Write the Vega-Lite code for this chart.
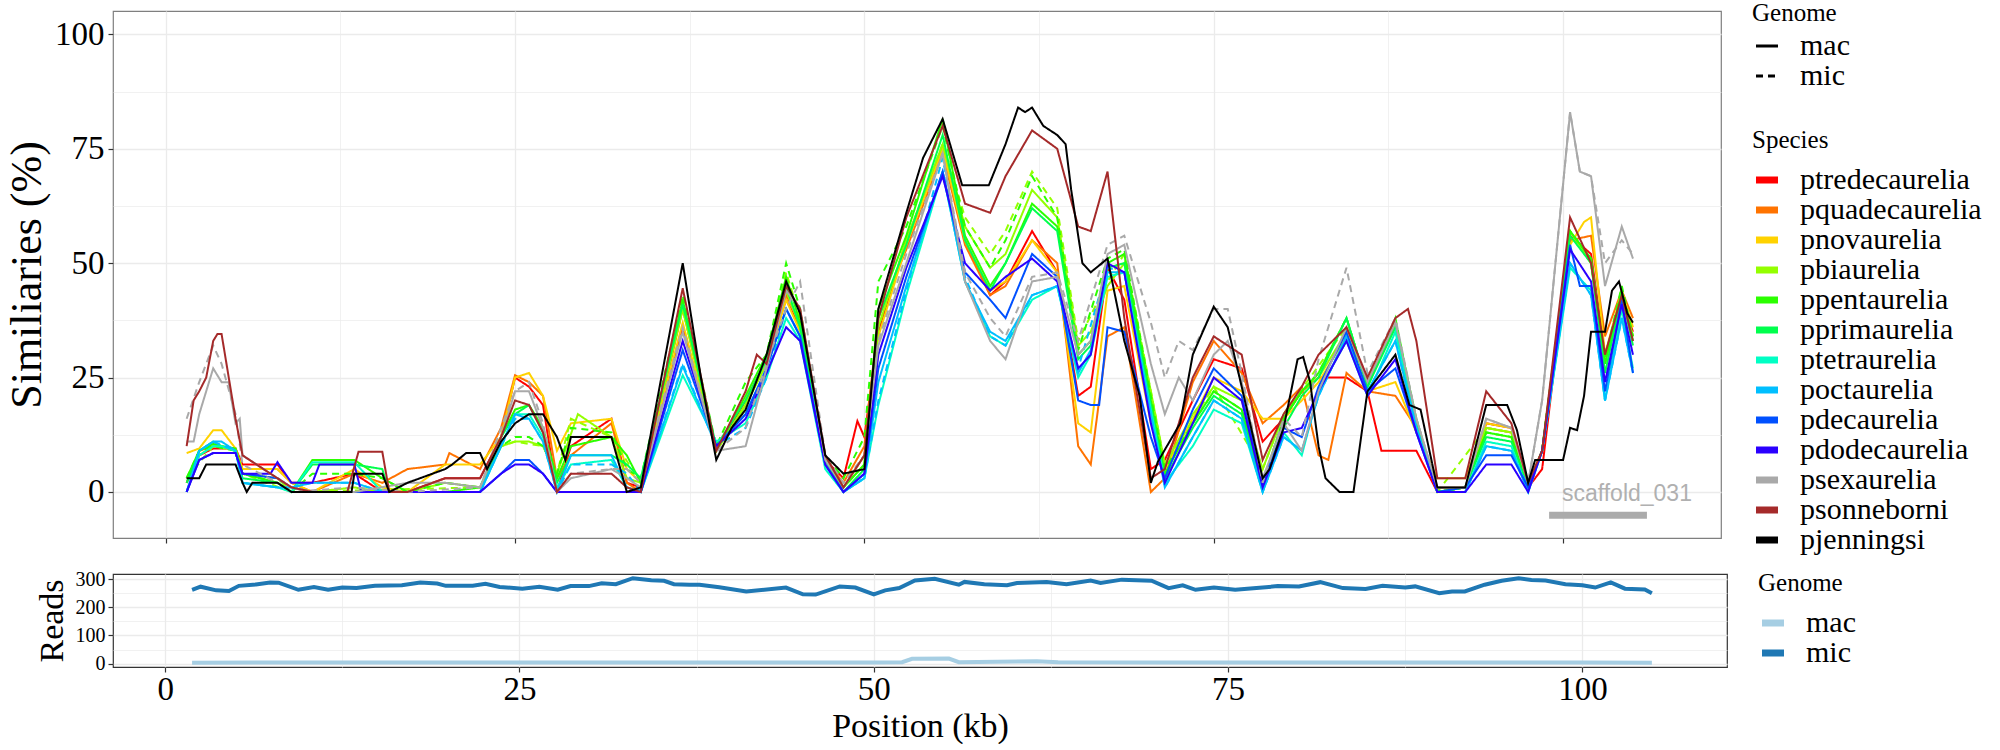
{
  "$schema": "https://vega.github.io/schema/vega-lite/v6.json",
  "padding": {"left": 4, "top": 0, "right": 0, "bottom": 0},
  "config": {
    "font": "Liberation Serif",
    "view": {"stroke": "#7f7f7f", "strokeWidth": 1.2},
    "axis": {"labelFont": "Liberation Serif", "titleFont": "Liberation Serif", "labelColor": "#000", "titleColor": "#000", "titleFontWeight": "normal", "tickColor": "#333", "tickSize": 5, "tickWidth": 1.2, "domain": false, "gridColor": "#EBEBEB", "labelOverlap": false, "labelFlush": false},
    "legend": {"labelFont": "Liberation Serif", "titleFont": "Liberation Serif", "titleFontWeight": "normal", "labelColor": "#000", "titleColor": "#000", "titleFontSize": 25, "labelFontSize": 30, "padding": 0, "rowPadding": 0, "labelOffset": 18, "symbolSize": 484, "symbolType": "stroke", "labelLimit": 300, "symbolStrokeColor": "#000"}
  },
  "datasets": {
    "ptredecaurelia_mac": [{"x":1.5,"y":2},{"x":2.4,"y":8},{"x":3.4,"y":9.5},{"x":4,"y":9.5},{"x":5,"y":9.5},{"x":5.5,"y":6},{"x":8,"y":6},{"x":9,"y":2},{"x":10.5,"y":2},{"x":13.5,"y":4},{"x":15.5,"y":0},{"x":17.3,"y":0},{"x":20,"y":3},{"x":22.5,"y":3},{"x":24,"y":12},{"x":25,"y":25},{"x":26,"y":23},{"x":27,"y":19},{"x":28,"y":0},{"x":29,"y":10},{"x":31.9,"y":16},{"x":33,"y":2},{"x":34,"y":1},{"x":37,"y":36},{"x":39.4,"y":9},{"x":41.5,"y":20},{"x":43,"y":29},{"x":44.4,"y":42},{"x":45.4,"y":36},{"x":47.2,"y":7},{"x":48.5,"y":3},{"x":49.5,"y":15.5},{"x":50,"y":12},{"x":51,"y":35},{"x":53,"y":55},{"x":55.6,"y":75},{"x":57.2,"y":55},{"x":59,"y":43},{"x":60.1,"y":46},{"x":62,"y":57},{"x":63.8,"y":48},{"x":65.3,"y":21},{"x":66.2,"y":23},{"x":67.4,"y":49},{"x":68.6,"y":42},{"x":70.5,"y":5},{"x":71.5,"y":7},{"x":73.5,"y":20},{"x":75,"y":29},{"x":77,"y":27},{"x":78.5,"y":11},{"x":80,"y":16},{"x":81.3,"y":22},{"x":82.5,"y":25},{"x":84.5,"y":25},{"x":86,"y":22},{"x":87,"y":9},{"x":88,"y":9},{"x":89.5,"y":9},{"x":91,"y":0},{"x":93,"y":1},{"x":94.5,"y":15},{"x":96.3,"y":14},{"x":97.5,"y":1},{"x":98.5,"y":5},{"x":100.5,"y":56},{"x":102,"y":52},{"x":103,"y":30},{"x":104.2,"y":42},{"x":105,"y":35}],
    "pquadecaurelia_mac": [{"x":1.5,"y":2},{"x":2.4,"y":9},{"x":3.4,"y":10},{"x":4,"y":10},{"x":5,"y":9},{"x":5.5,"y":5},{"x":8,"y":5},{"x":9,"y":2},{"x":10.5,"y":0},{"x":13.5,"y":4},{"x":15.5,"y":2},{"x":17.3,"y":5},{"x":20,"y":6},{"x":20.3,"y":8.5},{"x":22.5,"y":5},{"x":24,"y":14},{"x":25,"y":25.5},{"x":26,"y":24},{"x":27,"y":21},{"x":28,"y":3},{"x":29,"y":8},{"x":31.9,"y":15},{"x":33,"y":2},{"x":34,"y":0},{"x":37,"y":40},{"x":39.4,"y":9},{"x":41.5,"y":19},{"x":43,"y":29},{"x":44.4,"y":43},{"x":45.4,"y":37},{"x":47.2,"y":7},{"x":48.5,"y":2},{"x":50,"y":10},{"x":51,"y":38},{"x":53,"y":53},{"x":55.6,"y":74},{"x":57.2,"y":54},{"x":59,"y":43},{"x":60.1,"y":45},{"x":62,"y":55},{"x":63.8,"y":50},{"x":65.3,"y":10},{"x":66.2,"y":6},{"x":67.4,"y":34},{"x":68.6,"y":36},{"x":70.5,"y":0},{"x":71.5,"y":3},{"x":73.5,"y":24},{"x":75,"y":33},{"x":77,"y":26},{"x":78.5,"y":15},{"x":80,"y":19},{"x":81.3,"y":23},{"x":82.5,"y":8},{"x":83.2,"y":7},{"x":84.5,"y":26},{"x":86,"y":22},{"x":88,"y":21},{"x":89.5,"y":14},{"x":91,"y":1},{"x":93,"y":1},{"x":94.5,"y":14},{"x":96.3,"y":13},{"x":97.5,"y":1},{"x":98.5,"y":9},{"x":100.5,"y":55},{"x":102,"y":56},{"x":103,"y":34},{"x":104.2,"y":44},{"x":105,"y":38}],
    "pnovaurelia_mac": [{"x":1.5,"y":8.5},{"x":2.4,"y":9.5},{"x":3.4,"y":13.5},{"x":4,"y":13.5},{"x":5,"y":9.5},{"x":5.5,"y":5},{"x":8,"y":5},{"x":9,"y":2},{"x":10.5,"y":0},{"x":13.5,"y":5},{"x":15.5,"y":1},{"x":17.3,"y":0},{"x":20,"y":6},{"x":22.5,"y":6},{"x":24,"y":12},{"x":25,"y":25},{"x":26,"y":26},{"x":27,"y":21},{"x":28,"y":9},{"x":29,"y":15},{"x":31.9,"y":16},{"x":33,"y":5},{"x":34,"y":2},{"x":37,"y":37},{"x":39.4,"y":9},{"x":41.5,"y":19},{"x":43,"y":28},{"x":44.4,"y":42},{"x":45.4,"y":35},{"x":47.2,"y":7},{"x":48.5,"y":1},{"x":50,"y":8},{"x":51,"y":34},{"x":53,"y":54},{"x":55.6,"y":75},{"x":57.2,"y":55},{"x":59,"y":44},{"x":60.1,"y":46},{"x":62,"y":55},{"x":63.8,"y":48},{"x":65.3,"y":15},{"x":66.2,"y":13},{"x":67.4,"y":44},{"x":68.6,"y":45},{"x":70.5,"y":15},{"x":71.5,"y":5},{"x":73.5,"y":16},{"x":75,"y":25},{"x":77,"y":22},{"x":78.5,"y":16},{"x":80,"y":16},{"x":81.3,"y":20},{"x":82.5,"y":24},{"x":84.5,"y":34},{"x":86,"y":22},{"x":88,"y":24},{"x":89.5,"y":13},{"x":91,"y":3},{"x":93,"y":3},{"x":94.5,"y":15},{"x":96.3,"y":14},{"x":97.5,"y":2},{"x":98.5,"y":9},{"x":100.5,"y":54},{"x":101.5,"y":59},{"x":102,"y":60},{"x":103,"y":30},{"x":104.2,"y":44},{"x":105,"y":36}],
    "pbiaurelia_mac": [{"x":1.5,"y":3},{"x":2.4,"y":8},{"x":3.4,"y":10},{"x":4,"y":10},{"x":5,"y":9},{"x":5.5,"y":4},{"x":8,"y":3},{"x":9,"y":0},{"x":10.5,"y":0},{"x":13.5,"y":1},{"x":15.5,"y":0},{"x":17.3,"y":0},{"x":20,"y":2},{"x":22.5,"y":1},{"x":24,"y":10},{"x":25,"y":11},{"x":26,"y":11},{"x":27,"y":10},{"x":28,"y":4},{"x":29.5,"y":17},{"x":31.9,"y":12},{"x":33,"y":3},{"x":34,"y":2},{"x":37,"y":40},{"x":39.4,"y":9},{"x":41.5,"y":19},{"x":43,"y":28},{"x":44.4,"y":44},{"x":45.4,"y":36},{"x":47.2,"y":7},{"x":48.5,"y":1},{"x":50,"y":6},{"x":51,"y":36},{"x":53,"y":55},{"x":55.6,"y":76},{"x":57.2,"y":58},{"x":59,"y":49},{"x":60.1,"y":52},{"x":62,"y":66},{"x":63.8,"y":60},{"x":65.3,"y":32},{"x":66.2,"y":35},{"x":67.4,"y":45},{"x":68.6,"y":50},{"x":70.5,"y":22},{"x":71.5,"y":6},{"x":73.5,"y":17},{"x":75,"y":23},{"x":77,"y":20},{"x":78.5,"y":5},{"x":80,"y":17},{"x":81.3,"y":22},{"x":82.5,"y":25},{"x":84.5,"y":35},{"x":86,"y":24},{"x":88,"y":36},{"x":89.5,"y":15},{"x":91,"y":0},{"x":93,"y":1},{"x":94.5,"y":14},{"x":96.3,"y":13},{"x":97.5,"y":1},{"x":98.5,"y":9},{"x":100.5,"y":57},{"x":102,"y":50},{"x":103,"y":28},{"x":104.2,"y":43},{"x":105,"y":34}],
    "pbiaurelia_mic": [{"x":1.5,"y":3},{"x":3.4,"y":10},{"x":5,"y":9},{"x":5.5,"y":4},{"x":9,"y":0},{"x":22.5,"y":1},{"x":24,"y":10},{"x":25,"y":11},{"x":27,"y":10},{"x":28,"y":4},{"x":29,"y":16},{"x":31.9,"y":12},{"x":34,"y":2},{"x":37,"y":40},{"x":39.4,"y":9},{"x":41.5,"y":19},{"x":43,"y":29},{"x":44.4,"y":48},{"x":45.4,"y":38},{"x":47.2,"y":7},{"x":48.5,"y":1},{"x":50,"y":6},{"x":51,"y":36},{"x":53,"y":55},{"x":55.6,"y":76},{"x":57.2,"y":60},{"x":59,"y":52},{"x":60.1,"y":57},{"x":62,"y":70},{"x":63.8,"y":62},{"x":65.3,"y":33},{"x":67.4,"y":46},{"x":68.6,"y":52},{"x":70.5,"y":22},{"x":71.5,"y":6},{"x":75,"y":23},{"x":78.5,"y":5},{"x":80,"y":17},{"x":84.5,"y":36},{"x":86,"y":24},{"x":88,"y":36},{"x":89.5,"y":15},{"x":91,"y":0},{"x":94.5,"y":14},{"x":96.3,"y":13},{"x":97.5,"y":1},{"x":98.5,"y":9},{"x":100.5,"y":57},{"x":102,"y":50},{"x":103,"y":28},{"x":104.2,"y":43},{"x":105,"y":34}],
    "ppentaurelia_mac": [{"x":1.5,"y":3},{"x":2.4,"y":9},{"x":3.4,"y":10.5},{"x":4,"y":10},{"x":5,"y":9.5},{"x":5.5,"y":4},{"x":8,"y":2},{"x":9,"y":0},{"x":10.5,"y":7},{"x":13.5,"y":7},{"x":15.5,"y":3},{"x":17.3,"y":0},{"x":20,"y":0},{"x":22.5,"y":1},{"x":24,"y":12},{"x":25,"y":18},{"x":26,"y":19},{"x":27,"y":14},{"x":28,"y":3},{"x":29,"y":10},{"x":31.9,"y":12},{"x":33,"y":8},{"x":34,"y":2},{"x":37,"y":42},{"x":39.4,"y":9},{"x":41.5,"y":21},{"x":43,"y":30},{"x":44.4,"y":47},{"x":45.4,"y":37},{"x":47.2,"y":7},{"x":48.5,"y":1},{"x":50,"y":6},{"x":51,"y":40},{"x":53,"y":56},{"x":55.6,"y":81.5},{"x":57.2,"y":56},{"x":59,"y":45},{"x":60.1,"y":50},{"x":62,"y":63},{"x":63.8,"y":58},{"x":65.3,"y":30},{"x":66.2,"y":33},{"x":67.4,"y":50},{"x":68.6,"y":52},{"x":70.5,"y":20},{"x":71.5,"y":4},{"x":73.5,"y":15},{"x":75,"y":22},{"x":77,"y":18},{"x":78.5,"y":2},{"x":80,"y":16},{"x":81.3,"y":22},{"x":82.5,"y":26},{"x":84.5,"y":38},{"x":86,"y":23},{"x":88,"y":37},{"x":89.5,"y":16},{"x":91,"y":0},{"x":93,"y":1},{"x":94.5,"y":13},{"x":96.3,"y":12},{"x":97.5,"y":1},{"x":98.5,"y":9},{"x":100.5,"y":57},{"x":102,"y":51},{"x":103,"y":28},{"x":104.2,"y":44},{"x":105,"y":33}],
    "ppentaurelia_mic": [{"x":1.5,"y":3},{"x":2.4,"y":9},{"x":3.4,"y":10},{"x":5,"y":9},{"x":5.5,"y":4},{"x":8,"y":2},{"x":9,"y":0},{"x":10.5,"y":4},{"x":13.5,"y":4},{"x":15.5,"y":3},{"x":17.3,"y":0},{"x":20,"y":2},{"x":22.5,"y":1},{"x":24,"y":10},{"x":25,"y":12},{"x":26,"y":12},{"x":27,"y":10},{"x":28,"y":4},{"x":29,"y":14},{"x":31.9,"y":13},{"x":33,"y":5},{"x":34,"y":3},{"x":37,"y":43},{"x":39.4,"y":10},{"x":41.5,"y":24},{"x":43,"y":30},{"x":44.4,"y":50},{"x":45.4,"y":40},{"x":47.2,"y":8},{"x":48.5,"y":3},{"x":50,"y":12},{"x":51,"y":46},{"x":53,"y":58},{"x":55.6,"y":80},{"x":57.2,"y":58},{"x":59,"y":49},{"x":60.1,"y":55},{"x":62,"y":69},{"x":63.8,"y":60},{"x":65.3,"y":31},{"x":67.4,"y":51},{"x":68.6,"y":53},{"x":70.5,"y":21},{"x":71.5,"y":5},{"x":73.5,"y":15},{"x":75,"y":22},{"x":77,"y":18},{"x":78.5,"y":2},{"x":80,"y":16},{"x":81.3,"y":22},{"x":82.5,"y":26},{"x":84.5,"y":38},{"x":86,"y":23},{"x":88,"y":38},{"x":89.5,"y":15},{"x":91,"y":0},{"x":93,"y":1},{"x":94.5,"y":13},{"x":96.3,"y":12},{"x":97.5,"y":1},{"x":98.5,"y":9},{"x":100.5,"y":57},{"x":102,"y":51},{"x":103,"y":29},{"x":104.2,"y":45},{"x":105,"y":34}],
    "pprimaurelia_mac": [{"x":1.5,"y":2},{"x":2.4,"y":9},{"x":3.4,"y":11},{"x":4,"y":10},{"x":5,"y":9},{"x":5.5,"y":3},{"x":8,"y":2},{"x":9,"y":0},{"x":10.5,"y":6},{"x":13.5,"y":6},{"x":15.5,"y":5},{"x":16,"y":0},{"x":17.3,"y":0},{"x":20,"y":0},{"x":22.5,"y":0},{"x":24,"y":12},{"x":25,"y":17},{"x":26,"y":19},{"x":27,"y":13},{"x":28,"y":2},{"x":29,"y":8},{"x":31.9,"y":8},{"x":33,"y":6},{"x":34,"y":3},{"x":37,"y":41},{"x":39.4,"y":10},{"x":41.5,"y":20},{"x":43,"y":29},{"x":44.4,"y":45},{"x":45.4,"y":36},{"x":47.2,"y":7},{"x":48.5,"y":0},{"x":50,"y":5},{"x":51,"y":38},{"x":53,"y":54},{"x":55.6,"y":78},{"x":57.2,"y":55},{"x":59,"y":44},{"x":60.1,"y":50},{"x":62,"y":62},{"x":63.8,"y":57},{"x":65.3,"y":29},{"x":66.2,"y":32},{"x":67.4,"y":49},{"x":68.6,"y":50},{"x":70.5,"y":19},{"x":71.5,"y":3},{"x":73.5,"y":14},{"x":75,"y":21},{"x":77,"y":17},{"x":78.5,"y":1},{"x":80,"y":14},{"x":81.3,"y":21},{"x":82.5,"y":25},{"x":84.5,"y":38},{"x":86,"y":23},{"x":88,"y":36},{"x":89.5,"y":15},{"x":91,"y":0},{"x":93,"y":1},{"x":94.5,"y":12},{"x":96.3,"y":11},{"x":97.5,"y":1},{"x":98.5,"y":9},{"x":100.5,"y":56},{"x":102,"y":50},{"x":103,"y":26},{"x":104.2,"y":43},{"x":105,"y":32}],
    "ptetraurelia_mac": [{"x":1.5,"y":0},{"x":2.4,"y":8},{"x":3.4,"y":10},{"x":4,"y":10},{"x":5,"y":9},{"x":5.5,"y":2},{"x":8,"y":1},{"x":9,"y":0},{"x":10.5,"y":6.5},{"x":13.5,"y":6.5},{"x":15.5,"y":0},{"x":17.3,"y":0},{"x":20,"y":0},{"x":22.5,"y":0},{"x":24,"y":10},{"x":25,"y":17},{"x":26,"y":17},{"x":27,"y":12},{"x":28,"y":1},{"x":29,"y":6},{"x":31.9,"y":7},{"x":33,"y":1},{"x":34,"y":0},{"x":37,"y":25.5},{"x":39.4,"y":11},{"x":41.5,"y":15},{"x":43,"y":25},{"x":44.4,"y":38},{"x":45.4,"y":33},{"x":47.2,"y":5},{"x":48.5,"y":0},{"x":50,"y":3},{"x":51,"y":19},{"x":53,"y":43},{"x":55.6,"y":70},{"x":57.2,"y":46},{"x":59,"y":34},{"x":60.1,"y":32},{"x":62,"y":42},{"x":63.8,"y":45},{"x":65.3,"y":25},{"x":66.2,"y":30},{"x":67.4,"y":47},{"x":68.6,"y":48},{"x":70.5,"y":18},{"x":71.5,"y":2},{"x":73.5,"y":10},{"x":75,"y":18},{"x":77,"y":15},{"x":78.5,"y":0},{"x":80,"y":13},{"x":81.3,"y":8},{"x":82.5,"y":22},{"x":84.5,"y":33},{"x":86,"y":21},{"x":88,"y":35},{"x":89.5,"y":14},{"x":91,"y":0},{"x":93,"y":0},{"x":94.5,"y":11},{"x":96.3,"y":10},{"x":97.5,"y":0},{"x":98.5,"y":9},{"x":100.5,"y":49},{"x":102,"y":44},{"x":103,"y":20},{"x":104.2,"y":40},{"x":105,"y":27}],
    "poctaurelia_mac": [{"x":1.5,"y":0},{"x":2.4,"y":9},{"x":3.4,"y":11},{"x":4,"y":11},{"x":5,"y":9},{"x":5.5,"y":2},{"x":8,"y":1},{"x":9,"y":1},{"x":10.5,"y":2},{"x":13.5,"y":2},{"x":15.5,"y":0},{"x":17.3,"y":0},{"x":20,"y":0},{"x":22.5,"y":0},{"x":24,"y":10},{"x":25,"y":17},{"x":26,"y":16},{"x":27,"y":11},{"x":28,"y":0},{"x":29,"y":8},{"x":31.9,"y":8},{"x":33,"y":1},{"x":34,"y":0},{"x":37,"y":27.5},{"x":39.4,"y":10},{"x":41.5,"y":17},{"x":43,"y":27},{"x":44.4,"y":40},{"x":45.4,"y":34},{"x":47.2,"y":6},{"x":48.5,"y":0},{"x":50,"y":3},{"x":51,"y":24},{"x":53,"y":45},{"x":55.6,"y":70},{"x":57.2,"y":46},{"x":59,"y":35},{"x":60.1,"y":33},{"x":62,"y":43},{"x":63.8,"y":45},{"x":65.3,"y":26},{"x":66.2,"y":31},{"x":67.4,"y":48},{"x":68.6,"y":48},{"x":70.5,"y":17},{"x":71.5,"y":1},{"x":73.5,"y":12},{"x":75,"y":20},{"x":77,"y":16},{"x":78.5,"y":0},{"x":80,"y":12},{"x":81.3,"y":9},{"x":82.5,"y":21},{"x":84.5,"y":34},{"x":86,"y":22},{"x":88,"y":33},{"x":89.5,"y":14},{"x":91,"y":0},{"x":93,"y":0},{"x":94.5,"y":10},{"x":96.3,"y":9},{"x":97.5,"y":0},{"x":98.5,"y":9},{"x":100.5,"y":50},{"x":102,"y":43},{"x":103,"y":20},{"x":104.2,"y":38},{"x":105,"y":26}],
    "poctaurelia_mic": [{"x":1.5,"y":0},{"x":2.4,"y":9},{"x":3.4,"y":11},{"x":5,"y":9},{"x":5.5,"y":2},{"x":8,"y":1},{"x":9,"y":1},{"x":10.5,"y":2},{"x":13.5,"y":2},{"x":15.5,"y":0},{"x":22.5,"y":0},{"x":24,"y":10},{"x":25,"y":16},{"x":26,"y":16},{"x":27,"y":11},{"x":28,"y":0},{"x":29,"y":6},{"x":31.9,"y":6},{"x":33,"y":4},{"x":34,"y":0},{"x":37,"y":28},{"x":39.4,"y":10},{"x":41.5,"y":14},{"x":43,"y":25},{"x":44.4,"y":40},{"x":45.4,"y":34},{"x":47.2,"y":6},{"x":48.5,"y":0},{"x":50,"y":3},{"x":51,"y":20},{"x":53,"y":44},{"x":55.6,"y":73},{"x":57.2,"y":47},{"x":59,"y":34},{"x":60.1,"y":32},{"x":62,"y":43},{"x":63.8,"y":45},{"x":65.3,"y":27},{"x":67.4,"y":49},{"x":68.6,"y":48},{"x":70.5,"y":17},{"x":71.5,"y":1},{"x":73.5,"y":12},{"x":75,"y":20},{"x":77,"y":16},{"x":78.5,"y":0},{"x":80,"y":12},{"x":81.3,"y":9},{"x":82.5,"y":21},{"x":84.5,"y":34},{"x":86,"y":22},{"x":88,"y":33},{"x":89.5,"y":14},{"x":91,"y":0},{"x":93,"y":0},{"x":94.5,"y":10},{"x":96.3,"y":9},{"x":97.5,"y":1},{"x":98.5,"y":9},{"x":100.5,"y":50},{"x":102,"y":43},{"x":103,"y":20},{"x":104.2,"y":38},{"x":105,"y":26}],
    "pdecaurelia_mac": [{"x":1.5,"y":0},{"x":2.4,"y":7},{"x":3.4,"y":8.5},{"x":4,"y":8.5},{"x":5,"y":8.5},{"x":5.5,"y":4},{"x":8,"y":3},{"x":9,"y":1},{"x":10.5,"y":0},{"x":13.5,"y":0},{"x":17.3,"y":0},{"x":22.5,"y":0},{"x":24,"y":4},{"x":25,"y":7},{"x":26,"y":7},{"x":27,"y":4},{"x":28,"y":0},{"x":34,"y":0},{"x":37,"y":31},{"x":39.4,"y":10},{"x":41.5,"y":17},{"x":43,"y":27},{"x":44.4,"y":40},{"x":45.4,"y":34},{"x":47.2,"y":6},{"x":48.5,"y":0},{"x":50,"y":4},{"x":51,"y":27},{"x":53,"y":47},{"x":55.6,"y":70},{"x":57.2,"y":48},{"x":59,"y":42},{"x":60.1,"y":38},{"x":62,"y":52},{"x":63.8,"y":47},{"x":65.3,"y":20},{"x":66.2,"y":19},{"x":66.8,"y":19},{"x":67.4,"y":36},{"x":68.6,"y":35},{"x":70.5,"y":12},{"x":71.5,"y":3},{"x":73.5,"y":18},{"x":75,"y":27},{"x":77,"y":21},{"x":78.5,"y":2},{"x":80,"y":14},{"x":81.3,"y":12},{"x":82.5,"y":23},{"x":84.5,"y":35},{"x":86,"y":22},{"x":88,"y":27},{"x":89.5,"y":13},{"x":91,"y":0},{"x":93,"y":1},{"x":94.5,"y":8},{"x":96.3,"y":8},{"x":97.5,"y":1},{"x":98.5,"y":9},{"x":100.5,"y":54},{"x":101.2,"y":45},{"x":102,"y":45},{"x":103,"y":22},{"x":104.2,"y":42},{"x":105,"y":26}],
    "pdodecaurelia_mac": [{"x":1.5,"y":0},{"x":2.4,"y":7},{"x":3.4,"y":8.5},{"x":4,"y":8.5},{"x":5,"y":8.5},{"x":5.5,"y":4},{"x":7.5,"y":4},{"x":8,"y":6.5},{"x":9,"y":2},{"x":10.5,"y":2},{"x":11,"y":6},{"x":13.5,"y":6},{"x":14,"y":0},{"x":17.3,"y":0},{"x":22.5,"y":0},{"x":24,"y":4},{"x":25,"y":6},{"x":26,"y":6},{"x":27,"y":4},{"x":28,"y":0},{"x":34,"y":0},{"x":37,"y":33},{"x":39.4,"y":10},{"x":41.5,"y":16},{"x":43,"y":26},{"x":44.4,"y":36},{"x":45.4,"y":33},{"x":47.2,"y":6},{"x":48.5,"y":0},{"x":50,"y":4},{"x":51,"y":30},{"x":53,"y":49},{"x":55.6,"y":69},{"x":57.2,"y":50},{"x":59,"y":44},{"x":60.1,"y":47},{"x":62,"y":51},{"x":63.8,"y":46},{"x":65.3,"y":27},{"x":66.2,"y":30},{"x":67.4,"y":50},{"x":68.6,"y":48},{"x":70.5,"y":15},{"x":71.5,"y":2},{"x":73.5,"y":15},{"x":75,"y":25},{"x":77,"y":20},{"x":78.5,"y":1},{"x":80,"y":13},{"x":81.3,"y":14},{"x":82.5,"y":22},{"x":84.5,"y":33},{"x":86,"y":21},{"x":88,"y":29},{"x":89.5,"y":13},{"x":91,"y":0},{"x":93,"y":0},{"x":94.5,"y":6},{"x":96.3,"y":6},{"x":97.5,"y":0},{"x":98.5,"y":9},{"x":100.5,"y":53},{"x":102,"y":46},{"x":103,"y":24},{"x":104.2,"y":41},{"x":105,"y":30}],
    "psexaurelia_mac": [{"x":1.5,"y":11},{"x":2,"y":11},{"x":2.4,"y":17},{"x":3.4,"y":27},{"x":4,"y":24},{"x":4.5,"y":24},{"x":5,"y":15},{"x":5.3,"y":16},{"x":5.5,"y":8},{"x":8,"y":3},{"x":9,"y":1},{"x":10.5,"y":0},{"x":13.5,"y":0},{"x":17.3,"y":2},{"x":20,"y":2},{"x":22.5,"y":1},{"x":24,"y":12},{"x":25,"y":22},{"x":26,"y":22},{"x":27,"y":14},{"x":28,"y":0},{"x":29,"y":3},{"x":31.9,"y":5},{"x":33,"y":3},{"x":34,"y":1},{"x":37,"y":35},{"x":39.4,"y":9},{"x":41.5,"y":10},{"x":43,"y":27},{"x":44.4,"y":44},{"x":45.4,"y":40},{"x":47.2,"y":7},{"x":48.5,"y":1},{"x":50,"y":8},{"x":51,"y":32},{"x":53,"y":50},{"x":55.6,"y":74},{"x":57.2,"y":46},{"x":59,"y":33},{"x":60.1,"y":29},{"x":62,"y":46},{"x":63.8,"y":47},{"x":65.3,"y":30},{"x":66.2,"y":33},{"x":67.4,"y":52},{"x":68.6,"y":54},{"x":70.5,"y":28},{"x":71.5,"y":17},{"x":72.5,"y":25},{"x":73.5,"y":20},{"x":75,"y":30},{"x":76,"y":33},{"x":77,"y":24},{"x":78.5,"y":3},{"x":80,"y":15},{"x":81.3,"y":9},{"x":82.5,"y":22},{"x":84.5,"y":36},{"x":86,"y":24},{"x":88,"y":37},{"x":89.5,"y":16},{"x":91,"y":1},{"x":93,"y":1},{"x":94.5,"y":16},{"x":96.3,"y":14},{"x":97.5,"y":2},{"x":98.5,"y":20},{"x":100.5,"y":83},{"x":101.2,"y":70},{"x":102,"y":69},{"x":103,"y":45},{"x":104.2,"y":58},{"x":105,"y":51}],
    "psexaurelia_mic": [{"x":1.5,"y":16},{"x":2.4,"y":24},{"x":3.4,"y":32},{"x":4,"y":28},{"x":5,"y":17},{"x":5.5,"y":6},{"x":8,"y":2},{"x":9,"y":0},{"x":13.5,"y":1},{"x":17.3,"y":0},{"x":22.5,"y":1},{"x":24,"y":14},{"x":25,"y":22},{"x":26,"y":24},{"x":27,"y":15},{"x":28,"y":0},{"x":29,"y":4},{"x":31.9,"y":5},{"x":33,"y":5},{"x":34,"y":2},{"x":37,"y":36},{"x":39.4,"y":9},{"x":41.5,"y":14},{"x":43,"y":28},{"x":44.4,"y":40},{"x":45.4,"y":46},{"x":47.2,"y":8},{"x":48.5,"y":2},{"x":50,"y":8},{"x":51,"y":33},{"x":53,"y":52},{"x":55.6,"y":74},{"x":57.2,"y":48},{"x":59,"y":38},{"x":60.1,"y":34},{"x":62,"y":47},{"x":63.8,"y":48},{"x":65.3,"y":33},{"x":67.4,"y":54},{"x":68.6,"y":56},{"x":70.5,"y":37},{"x":71.5,"y":25},{"x":72.5,"y":33},{"x":73.5,"y":31},{"x":75,"y":40},{"x":76,"y":40},{"x":77,"y":26},{"x":78.5,"y":2},{"x":80,"y":16},{"x":81.3,"y":12},{"x":82.5,"y":29},{"x":84.5,"y":49},{"x":86,"y":26},{"x":88,"y":38},{"x":89.5,"y":16},{"x":91,"y":1},{"x":93,"y":1},{"x":94.5,"y":16},{"x":96.3,"y":14},{"x":97.5,"y":2},{"x":98.5,"y":20},{"x":100.5,"y":83},{"x":101.2,"y":70},{"x":102,"y":69},{"x":103,"y":50},{"x":104.2,"y":55},{"x":105,"y":52}],
    "psonneborni_mac": [{"x":1.5,"y":10},{"x":2,"y":20},{"x":2.4,"y":22},{"x":2.9,"y":25},{"x":3.4,"y":33},{"x":3.7,"y":34.5},{"x":4,"y":34.5},{"x":5,"y":16},{"x":5.5,"y":8},{"x":8,"y":3},{"x":9,"y":1},{"x":10.5,"y":0},{"x":13,"y":0},{"x":13.8,"y":8.8},{"x":15.5,"y":8.8},{"x":16,"y":0},{"x":17.3,"y":0},{"x":20,"y":3},{"x":22.5,"y":3},{"x":24,"y":12},{"x":25,"y":20},{"x":26,"y":19},{"x":27,"y":13},{"x":28,"y":0},{"x":29,"y":4},{"x":31.9,"y":4},{"x":33,"y":1},{"x":34,"y":0},{"x":37,"y":44.5},{"x":39.4,"y":9},{"x":41.5,"y":22},{"x":42.3,"y":30},{"x":43,"y":28},{"x":44.4,"y":45},{"x":45.4,"y":40},{"x":47.2,"y":8},{"x":48.5,"y":1},{"x":50,"y":8},{"x":51,"y":38},{"x":53,"y":60},{"x":55.6,"y":80},{"x":57.2,"y":63},{"x":59,"y":61},{"x":60.1,"y":69},{"x":62,"y":79},{"x":63.8,"y":75},{"x":65.3,"y":58},{"x":66.2,"y":57},{"x":67.4,"y":70},{"x":68.6,"y":38},{"x":70.5,"y":3},{"x":71.5,"y":5},{"x":73.5,"y":25},{"x":75,"y":34},{"x":77,"y":30},{"x":78.5,"y":7},{"x":80,"y":17},{"x":81.3,"y":23},{"x":82.5,"y":30},{"x":84.5,"y":36},{"x":86,"y":25},{"x":88,"y":38},{"x":88.9,"y":40},{"x":89.5,"y":33},{"x":91,"y":3},{"x":93,"y":3},{"x":94.5,"y":22},{"x":96.3,"y":15},{"x":97.5,"y":2},{"x":98.5,"y":9},{"x":100.5,"y":60},{"x":102,"y":50},{"x":103,"y":30},{"x":104.2,"y":43},{"x":105,"y":33}],
    "pjenningsi_mac": [{"x":1.5,"y":3},{"x":2.4,"y":3},{"x":2.9,"y":6},{"x":4,"y":6},{"x":5,"y":6},{"x":5.5,"y":2},{"x":5.8,"y":0},{"x":6.2,"y":2},{"x":8,"y":2},{"x":9,"y":0},{"x":10.5,"y":0},{"x":13.3,"y":0},{"x":13.5,"y":4},{"x":15.5,"y":4},{"x":16,"y":0},{"x":17.3,"y":2},{"x":20,"y":5},{"x":20.5,"y":6},{"x":21.5,"y":8.5},{"x":22.5,"y":8.5},{"x":23,"y":5},{"x":24,"y":11},{"x":25,"y":15},{"x":26,"y":17},{"x":27,"y":17},{"x":28,"y":12},{"x":28.6,"y":7},{"x":29,"y":12},{"x":31.9,"y":12},{"x":33,"y":0},{"x":34,"y":1},{"x":37,"y":50},{"x":38.3,"y":25},{"x":39.4,"y":7},{"x":40.5,"y":14},{"x":41.5,"y":18},{"x":43,"y":30},{"x":44.4,"y":46},{"x":45.4,"y":39},{"x":47.2,"y":8},{"x":48.5,"y":4},{"x":50,"y":5},{"x":51,"y":40},{"x":53,"y":61},{"x":54.2,"y":73},{"x":55.6,"y":81.5},{"x":57,"y":67},{"x":58.9,"y":67},{"x":60.1,"y":76},{"x":61,"y":84},{"x":61.5,"y":83},{"x":62,"y":84},{"x":62.8,"y":80},{"x":63.8,"y":78},{"x":64.4,"y":76},{"x":64.8,"y":66},{"x":65.6,"y":50},{"x":66.2,"y":48},{"x":67.4,"y":51},{"x":68.6,"y":33},{"x":69.7,"y":21},{"x":70.5,"y":2},{"x":71,"y":6.6},{"x":72.6,"y":15},{"x":73.5,"y":30},{"x":75,"y":40.5},{"x":76,"y":36},{"x":77,"y":23},{"x":78.5,"y":3},{"x":79,"y":5},{"x":80,"y":14},{"x":81,"y":29},{"x":81.4,"y":29.5},{"x":81.9,"y":24},{"x":82.5,"y":10},{"x":83,"y":3},{"x":84,"y":0},{"x":85,"y":0},{"x":86,"y":22},{"x":88,"y":30},{"x":89,"y":19},{"x":89.8,"y":18},{"x":91,"y":1},{"x":93,"y":1},{"x":94.5,"y":19},{"x":96,"y":19},{"x":96.7,"y":13.5},{"x":97.5,"y":2},{"x":98,"y":7},{"x":100,"y":7},{"x":100.5,"y":14},{"x":101,"y":13.5},{"x":101.5,"y":21},{"x":102,"y":35},{"x":103,"y":35},{"x":103.5,"y":44},{"x":104,"y":46},{"x":104.6,"y":39},{"x":105,"y":37}],
    "scaffold": [{"x":99,"x2":106,"y":-5.1,"label":"scaffold_031"}],
    "reads": [
      {"x":1.9,"y":262,"g":"mic"},{"x":2.5,"y":273,"g":"mic"},{"x":3.6,"y":260,"g":"mic"},{"x":4.5,"y":258,"g":"mic"},{"x":5.2,"y":276,"g":"mic"},{"x":6.4,"y":281,"g":"mic"},{"x":7.4,"y":288,"g":"mic"},{"x":8,"y":287,"g":"mic"},{"x":9.4,"y":262,"g":"mic"},{"x":10.5,"y":272,"g":"mic"},{"x":11.5,"y":262,"g":"mic"},{"x":12.5,"y":270,"g":"mic"},{"x":13.5,"y":268,"g":"mic"},{"x":14.8,"y":276,"g":"mic"},{"x":16.7,"y":278,"g":"mic"},{"x":18,"y":288,"g":"mic"},{"x":19.2,"y":284,"g":"mic"},{"x":19.8,"y":276,"g":"mic"},{"x":21.7,"y":276,"g":"mic"},{"x":22.6,"y":283,"g":"mic"},{"x":23.6,"y":272,"g":"mic"},{"x":25.2,"y":266,"g":"mic"},{"x":26.4,"y":273,"g":"mic"},{"x":27.7,"y":262,"g":"mic"},{"x":28.6,"y":275,"g":"mic"},{"x":29.9,"y":275,"g":"mic"},{"x":30.8,"y":285,"g":"mic"},{"x":31.8,"y":282,"g":"mic"},{"x":33,"y":303,"g":"mic"},{"x":34.3,"y":296,"g":"mic"},{"x":35.2,"y":294,"g":"mic"},{"x":35.9,"y":282,"g":"mic"},{"x":37,"y":280,"g":"mic"},{"x":37.7,"y":280,"g":"mic"},{"x":39.1,"y":271,"g":"mic"},{"x":41,"y":256,"g":"mic"},{"x":43.8,"y":270,"g":"mic"},{"x":45,"y":246,"g":"mic"},{"x":45.9,"y":245,"g":"mic"},{"x":47.6,"y":274,"g":"mic"},{"x":48.7,"y":270,"g":"mic"},{"x":50,"y":246,"g":"mic"},{"x":50.8,"y":260,"g":"mic"},{"x":51.8,"y":268,"g":"mic"},{"x":52.9,"y":295,"g":"mic"},{"x":54.3,"y":301,"g":"mic"},{"x":56,"y":280,"g":"mic"},{"x":56.4,"y":290,"g":"mic"},{"x":57.8,"y":282,"g":"mic"},{"x":59.4,"y":278,"g":"mic"},{"x":60.1,"y":286,"g":"mic"},{"x":62.2,"y":290,"g":"mic"},{"x":63.6,"y":282,"g":"mic"},{"x":65.3,"y":295,"g":"mic"},{"x":66,"y":286,"g":"mic"},{"x":67.5,"y":298,"g":"mic"},{"x":69.6,"y":294,"g":"mic"},{"x":70.8,"y":268,"g":"mic"},{"x":71.8,"y":278,"g":"mic"},{"x":72.7,"y":262,"g":"mic"},{"x":74,"y":270,"g":"mic"},{"x":75.5,"y":262,"g":"mic"},{"x":77,"y":268,"g":"mic"},{"x":78.5,"y":275,"g":"mic"},{"x":80,"y":274,"g":"mic"},{"x":81.5,"y":289,"g":"mic"},{"x":83.1,"y":268,"g":"mic"},{"x":84.7,"y":265,"g":"mic"},{"x":85.9,"y":276,"g":"mic"},{"x":87.5,"y":270,"g":"mic"},{"x":88.2,"y":274,"g":"mic"},{"x":89.9,"y":250,"g":"mic"},{"x":90.8,"y":256,"g":"mic"},{"x":91.7,"y":256,"g":"mic"},{"x":93.1,"y":280,"g":"mic"},{"x":94.3,"y":294,"g":"mic"},{"x":95.5,"y":303,"g":"mic"},{"x":96.4,"y":297,"g":"mic"},{"x":97.4,"y":295,"g":"mic"},{"x":98.8,"y":282,"g":"mic"},{"x":100,"y":278,"g":"mic"},{"x":100.9,"y":270,"g":"mic"},{"x":102,"y":288,"g":"mic"},{"x":103,"y":266,"g":"mic"},{"x":104.4,"y":263,"g":"mic"},{"x":104.9,"y":250,"g":"mic"},
      {"x":1.9,"y":3,"g":"mac"},{"x":10,"y":4,"g":"mac"},{"x":20,"y":4,"g":"mac"},{"x":30,"y":4,"g":"mac"},{"x":40,"y":4,"g":"mac"},{"x":50,"y":4,"g":"mac"},{"x":52,"y":5,"g":"mac"},{"x":52.7,"y":17,"g":"mac"},{"x":55.3,"y":18,"g":"mac"},{"x":56,"y":5,"g":"mac"},{"x":58.7,"y":7,"g":"mac"},{"x":61.5,"y":8,"g":"mac"},{"x":63,"y":5,"g":"mac"},{"x":70,"y":4,"g":"mac"},{"x":80,"y":4,"g":"mac"},{"x":90,"y":4,"g":"mac"},{"x":100,"y":4,"g":"mac"},{"x":104.9,"y":3,"g":"mac"}
    ]
  },
  "vconcat": [
    {
      "width": 1608,
      "height": 527,
      "encoding": {
        "x": {"field": "x", "type": "quantitative", "scale": {"domain": [-3.77, 111.3], "nice": false, "zero": false},
          "axis": {"title": null, "labels": false, "values": [0, 12.5, 25, 37.5, 50, 62.5, 75, 87.5, 100],
            "tickOpacity": {"condition": {"test": "datum.value % 25 === 0", "value": 1}, "value": 0},
            "gridWidth": {"condition": {"test": "datum.value % 25 === 0", "value": 1.3}, "value": 0.7}}},
        "y": {"field": "y", "type": "quantitative", "scale": {"domain": [-10.06, 105.1], "nice": false, "zero": false},
          "axis": {"title": "Similiaries (%)", "titleFontSize": 44, "titlePadding": 5, "labelFontSize": 33, "labelPadding": 4,
            "values": [0, 12.5, 25, 37.5, 50, 62.5, 75, 87.5, 100],
            "labelExpr": "datum.value % 25 === 0 ? datum.label : ''",
            "tickOpacity": {"condition": {"test": "datum.value % 25 === 0", "value": 1}, "value": 0},
            "gridWidth": {"condition": {"test": "datum.value % 25 === 0", "value": 1.3}, "value": 0.7}}},
        "strokeWidth": {"value": 2}
      },
      "layer": [
        {"data": {"name": "ptredecaurelia_mac"}, "mark": "line", "encoding": {
          "color": {"datum": "ptredecaurelia", "type": "nominal",
            "scale": {"domain": ["ptredecaurelia", "pquadecaurelia", "pnovaurelia", "pbiaurelia", "ppentaurelia", "pprimaurelia", "ptetraurelia", "poctaurelia", "pdecaurelia", "pdodecaurelia", "psexaurelia", "psonneborni", "pjenningsi"],
              "range": ["#FF0000", "#FF7300", "#FFD200", "#94FF00", "#2BFF00", "#00FF4D", "#00FFC4", "#00BFFF", "#0050FF", "#2A00FF", "#A9A9A9", "#A52A2A", "#000000"]},
            "legend": {"orient": "none", "legendX": 1639, "legendY": 117, "title": "Species", "titlePadding": 12, "symbolStrokeWidth": 7}},
          "strokeDash": {"datum": "mac", "type": "nominal",
            "scale": {"domain": ["mac", "mic"], "range": [[1, 0], [7, 5]]},
            "legend": {"orient": "none", "legendX": 1639, "legendY": -10, "title": "Genome", "titlePadding": 5, "symbolStrokeWidth": 3}}}},
        {"data": {"name": "pquadecaurelia_mac"}, "mark": "line", "encoding": {"color": {"datum": "pquadecaurelia"}, "strokeDash": {"datum": "mac"}}},
        {"data": {"name": "pnovaurelia_mac"}, "mark": "line", "encoding": {"color": {"datum": "pnovaurelia"}, "strokeDash": {"datum": "mac"}}},
        {"data": {"name": "pbiaurelia_mac"}, "mark": "line", "encoding": {"color": {"datum": "pbiaurelia"}, "strokeDash": {"datum": "mac"}}},
        {"data": {"name": "pbiaurelia_mic"}, "mark": "line", "encoding": {"color": {"datum": "pbiaurelia"}, "strokeDash": {"datum": "mic"}}},
        {"data": {"name": "ppentaurelia_mac"}, "mark": "line", "encoding": {"color": {"datum": "ppentaurelia"}, "strokeDash": {"datum": "mac"}}},
        {"data": {"name": "ppentaurelia_mic"}, "mark": "line", "encoding": {"color": {"datum": "ppentaurelia"}, "strokeDash": {"datum": "mic"}}},
        {"data": {"name": "pprimaurelia_mac"}, "mark": "line", "encoding": {"color": {"datum": "pprimaurelia"}, "strokeDash": {"datum": "mac"}}},
        {"data": {"name": "ptetraurelia_mac"}, "mark": "line", "encoding": {"color": {"datum": "ptetraurelia"}, "strokeDash": {"datum": "mac"}}},
        {"data": {"name": "poctaurelia_mac"}, "mark": "line", "encoding": {"color": {"datum": "poctaurelia"}, "strokeDash": {"datum": "mac"}}},
        {"data": {"name": "poctaurelia_mic"}, "mark": "line", "encoding": {"color": {"datum": "poctaurelia"}, "strokeDash": {"datum": "mic"}}},
        {"data": {"name": "pdecaurelia_mac"}, "mark": "line", "encoding": {"color": {"datum": "pdecaurelia"}, "strokeDash": {"datum": "mac"}}},
        {"data": {"name": "pdodecaurelia_mac"}, "mark": "line", "encoding": {"color": {"datum": "pdodecaurelia"}, "strokeDash": {"datum": "mac"}}},
        {"data": {"name": "psexaurelia_mac"}, "mark": "line", "encoding": {"color": {"datum": "psexaurelia"}, "strokeDash": {"datum": "mac"}}},
        {"data": {"name": "psexaurelia_mic"}, "mark": "line", "encoding": {"color": {"datum": "psexaurelia"}, "strokeDash": {"datum": "mic"}}},
        {"data": {"name": "psonneborni_mac"}, "mark": "line", "encoding": {"color": {"datum": "psonneborni"}, "strokeDash": {"datum": "mac"}}},
        {"data": {"name": "pjenningsi_mac"}, "mark": "line", "encoding": {"color": {"datum": "pjenningsi"}, "strokeDash": {"datum": "mac"}}},
        {"data": {"name": "scaffold"}, "mark": {"type": "rule", "color": "#ABABAB"}, "encoding": {"x2": {"field": "x2"}, "strokeWidth": {"value": 7}}},
        {"data": {"name": "scaffold"}, "mark": {"type": "text", "font": "Liberation Sans", "fontSize": 23, "color": "#B0B0B0", "dy": -21, "dx": -20},
          "encoding": {"x": {"field": "x2", "type": "quantitative"}, "text": {"field": "label"}}}
      ]
    },
    {
      "width": 1614,
      "height": 93,
      "view": {"stroke": "#333333", "strokeWidth": 1.2},
      "data": {"name": "reads"},
      "mark": "line",
      "encoding": {
        "x": {"field": "x", "type": "quantitative", "scale": {"domain": [-3.68, 110.2], "nice": false, "zero": false},
          "axis": {"title": "Position (kb)", "titleFontSize": 34, "titlePadding": 3, "labelFontSize": 33, "labelPadding": 1,
            "values": [0, 12.5, 25, 37.5, 50, 62.5, 75, 87.5, 100],
            "labelExpr": "datum.value % 25 === 0 ? datum.label : ''",
            "tickOpacity": {"condition": {"test": "datum.value % 25 === 0", "value": 1}, "value": 0},
            "gridWidth": {"condition": {"test": "datum.value % 25 === 0", "value": 1.3}, "value": 0.7}}},
        "y": {"field": "y", "type": "quantitative", "scale": {"domain": [-12, 318], "nice": false, "zero": false},
          "axis": {"title": "Reads", "titleFontSize": 34, "titlePadding": 6, "labelFontSize": 20, "labelPadding": 3,
            "values": [0, 50, 100, 150, 200, 250, 300],
            "labelExpr": "datum.value % 100 === 0 ? datum.label : ''",
            "tickOpacity": {"condition": {"test": "datum.value % 100 === 0", "value": 1}, "value": 0},
            "gridWidth": {"condition": {"test": "datum.value % 100 === 0", "value": 1.3}, "value": 0.7}}},
        "strokeWidth": {"value": 4},
        "color": {"field": "g", "type": "nominal",
          "scale": {"domain": ["mac", "mic"], "range": ["#A6CEE3", "#1F78B4"]},
          "legend": {"orient": "none", "legendX": 1645, "legendY": -3, "title": "Genome", "titlePadding": 12, "symbolStrokeWidth": 7}}
      }
    }
  ],
  "spacing": 36,
  "bounds": "flush",
  "resolve": {
    "scale": {"x": "independent", "y": "independent", "color": "independent", "strokeDash": "independent"},
    "axis": {"x": "independent", "y": "independent"},
    "legend": {"color": "independent", "strokeDash": "independent"}
  }
}
